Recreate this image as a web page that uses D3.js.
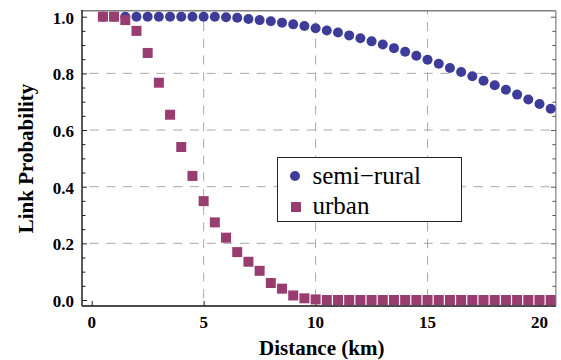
<!DOCTYPE html>
<html>
<head>
<meta charset="utf-8">
<script src="https://cdn.jsdelivr.net/npm/d3@7"></script>
<style>
    body { margin: 0; background: #fff; }
    svg { display: block; }
</style>
</head>
<body>
<svg id="chart"></svg>
<script>
// distances (km) of the sample points
const distance = [0.5, 1, 1.5, 2, 2.5, 3, 3.5, 4, 4.5, 5, 5.5, 6, 6.5, 7, 7.5, 8, 8.5, 9, 9.5, 10,
    10.5, 11, 11.5, 12, 12.5, 13, 13.5, 14, 14.5, 15, 15.5, 16, 16.5, 17, 17.5, 18, 18.5, 19, 19.5, 20, 20.5];

// link probability, semi-rural
const semiRural = [1.0, 1.0, 1.0, 1.0, 1.0, 1.0, 1.0, 1.0, 1.0, 1.0, 1.0, 0.998, 0.996, 0.992, 0.988, 0.984,
    0.979, 0.973, 0.967, 0.959, 0.951, 0.944, 0.934, 0.924, 0.913, 0.902, 0.889, 0.876, 0.862, 0.848,
    0.834, 0.819, 0.805, 0.790, 0.774, 0.758, 0.742, 0.725, 0.708, 0.692, 0.675];

// link probability, urban
const urban = [1.0, 1.0, 0.988, 0.95, 0.872, 0.767, 0.654, 0.54, 0.438, 0.349, 0.274, 0.22, 0.169, 0.135,
    0.103, 0.06, 0.04, 0.016, 0.006, 0.002, 0, 0, 0, 0, 0, 0, 0, 0, 0, 0, 0, 0, 0, 0, 0, 0, 0, 0, 0, 0, 0];

const xTicks = [0, 5, 10, 15, 20];
const yTicks = [0.0, 0.2, 0.4, 0.6, 0.8, 1.0];
const yMinorTicks = [0.05, 0.1, 0.15, 0.25, 0.3, 0.35, 0.45, 0.5, 0.55, 0.65, 0.7, 0.75, 0.85, 0.9, 0.95];
const xGrid = [5, 10, 15];
const yGrid = [0.2, 0.4, 0.6, 0.8];
const seriesNames = ["semi\u2212rural", "urban"];

const width = 561, height = 360;
const blue = "#3d3d99", purple = "#993d71";
const serif = "'Liberation Serif', 'Times New Roman', Times, 'DejaVu Serif', serif";

const svg = d3.select("#chart").attr("width", width).attr("height", height)
    .style("font-family", serif);

const x = d3.scaleLinear().domain([0, 20]).range([91.7, 539.5]);
const y = d3.scaleLinear().domain([0, 1]).range([300, 16.7]);

const frameLeft = x(-0.433), frameRight = x(20.73);
const frameTop = y(1.021), frameBottom = y(-0.021);

// grid lines
svg.append("g").selectAll("line")
    .data(xGrid)
    .join("line")
    .attr("x1", d => x(d)).attr("x2", d => x(d))
    .attr("y1", frameBottom).attr("y2", frameTop)
    .attr("stroke", "#a8a8a8")
    .attr("stroke-dasharray", "9,7.7")
    .attr("stroke-dashoffset", 9);
svg.append("g").selectAll("line")
    .data(yGrid)
    .join("line")
    .attr("x1", frameLeft).attr("x2", frameRight)
    .attr("y1", d => y(d)).attr("y2", d => y(d))
    .attr("stroke", "#a8a8a8")
    .attr("stroke-dasharray", "9,7.7")
    .attr("stroke-dashoffset", 9);

// frame: top and right gray
svg.append("line").attr("x1", frameLeft).attr("x2", frameRight).attr("y1", frameTop).attr("y2", frameTop)
    .attr("stroke", "#808080").attr("stroke-width", 1.4);
svg.append("line").attr("x1", frameRight).attr("x2", frameRight).attr("y1", frameTop).attr("y2", frameBottom)
    .attr("stroke", "#808080").attr("stroke-width", 1.2);

// left axis, ticks inward
svg.append("g").attr("transform", `translate(${frameLeft},0)`)
    .call(d3.axisRight(y).tickValues(yTicks).tickSize(5).tickFormat(""))
    .call(g => g.select(".domain").remove())
    .call(g => g.selectAll(".tick line").attr("stroke", "#222"));
svg.append("g").attr("transform", `translate(${frameLeft},0)`)
    .call(d3.axisRight(y).tickValues(yMinorTicks).tickSize(3.5).tickFormat(""))
    .call(g => g.select(".domain").remove())
    .call(g => g.selectAll(".tick line").attr("stroke", "#222"));

// right axis, ticks inward
svg.append("g").attr("transform", `translate(${frameRight},0)`)
    .call(d3.axisLeft(y).tickValues(yTicks).tickSize(5).tickFormat(""))
    .call(g => g.select(".domain").remove())
    .call(g => g.selectAll(".tick line").attr("stroke", "#555"));
svg.append("g").attr("transform", `translate(${frameRight},0)`)
    .call(d3.axisLeft(y).tickValues(yMinorTicks).tickSize(3.5).tickFormat(""))
    .call(g => g.select(".domain").remove())
    .call(g => g.selectAll(".tick line").attr("stroke", "#555"));

// bottom axis ticks inward
svg.append("g").attr("transform", `translate(0,${frameBottom})`)
    .call(d3.axisTop(x).tickValues(xTicks).tickSize(5).tickFormat(""))
    .call(g => g.select(".domain").remove())
    .call(g => g.selectAll(".tick line").attr("stroke", "#222"));

// tick labels
svg.append("g").selectAll("text")
    .data(yTicks)
    .join("text")
    .attr("font-family", serif)
    .attr("font-weight", "bold")
    .attr("font-size", 17)
    .attr("x", 74)
    .attr("y", d => y(d) + 7)
    .attr("text-anchor", "end")
    .text(d => d.toFixed(1));
svg.append("g").selectAll("text")
    .data(xTicks)
    .join("text")
    .attr("font-family", serif)
    .attr("font-weight", "bold")
    .attr("font-size", 17)
    .attr("x", d => x(d))
    .attr("y", 327.5)
    .attr("text-anchor", "middle")
    .text(d => d);

// axis titles
svg.append("text")
    .attr("font-family", serif)
    .attr("font-weight", "bold")
    .attr("font-size", 21)
    .attr("x", 321.7)
    .attr("y", 355)
    .attr("text-anchor", "middle")
    .text("Distance (km)");
svg.append("text")
    .attr("font-family", serif)
    .attr("font-weight", "bold")
    .attr("font-size", 21)
    .attr("text-anchor", "middle")
    .attr("transform", "translate(32.5,158.5) rotate(-90)")
    .text("Link Probability");

// points
const rows = distance.map((d, i) => ({ d, s: semiRural[i], u: urban[i] }));
svg.append("g").selectAll("circle")
    .data(rows)
    .join("circle")
    .attr("cx", r => x(r.d))
    .attr("cy", r => y(r.s))
    .attr("r", 5)
    .attr("fill", blue);
svg.append("g").selectAll("rect")
    .data(rows)
    .join("rect")
    .attr("x", r => x(r.d) - 5)
    .attr("y", r => y(r.u) - 5)
    .attr("width", 10)
    .attr("height", 10)
    .attr("fill", purple);

// black left and bottom frame on top
svg.append("line").attr("x1", frameLeft).attr("x2", frameLeft).attr("y1", frameTop - 0.7).attr("y2", frameBottom)
    .attr("stroke", "#111").attr("stroke-width", 1.4);
svg.append("line").attr("x1", frameLeft).attr("x2", frameRight).attr("y1", frameBottom).attr("y2", frameBottom)
    .attr("stroke", "#111").attr("stroke-width", 1.4);

// legend
const legend = svg.append("g");
legend.append("rect")
    .attr("x", 277.5).attr("y", 157.5)
    .attr("width", 184).attr("height", 64)
    .attr("fill", "#fff")
    .attr("stroke", "#222");
legend.append("circle").attr("cx", 295).attr("cy", 176).attr("r", 5).attr("fill", blue);
legend.append("rect").attr("x", 291).attr("y", 202).attr("width", 10).attr("height", 10).attr("fill", purple);
legend.selectAll(".legend-text")
    .data(seriesNames)
    .join("text")
    .attr("class", "legend-text")
    .attr("font-family", serif)
    .attr("font-size", 25)
    .attr("x", 312.5)
    .attr("y", (d, i) => 183.5 + i * 30)
    .text(d => d);
</script>
</body>
</html>
